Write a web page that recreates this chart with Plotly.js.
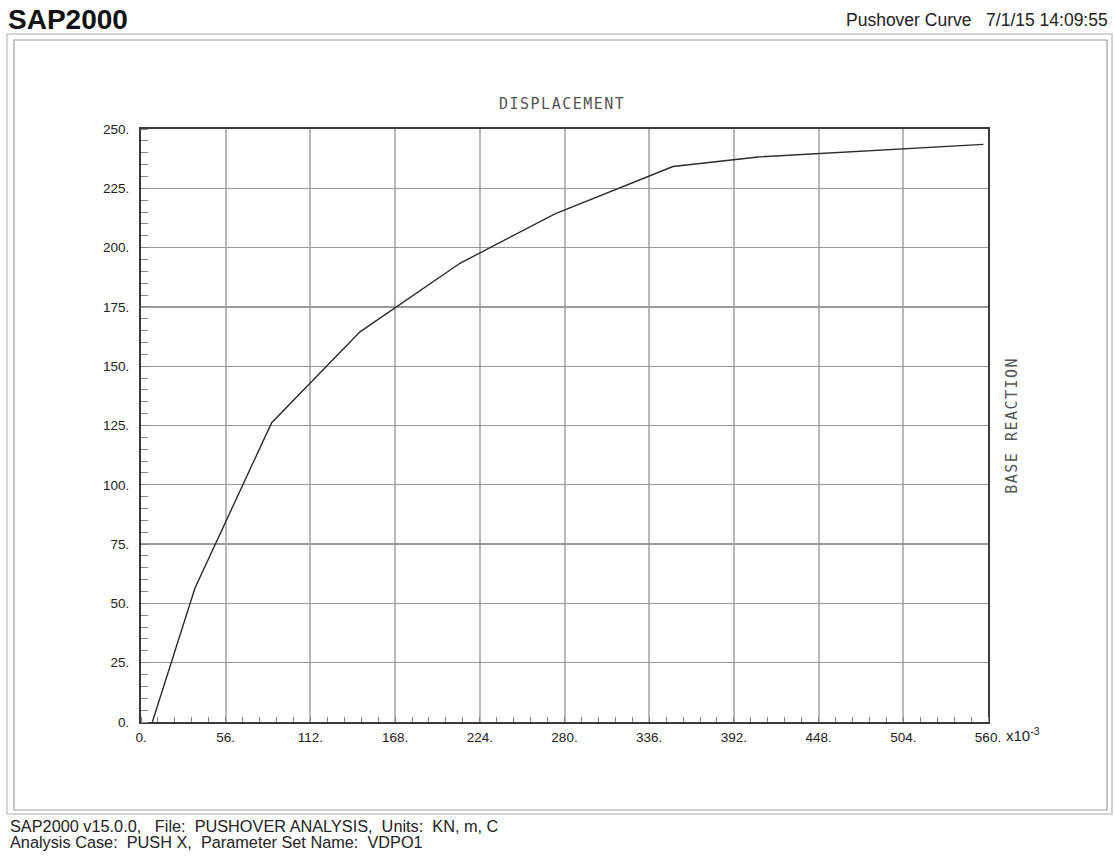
<!DOCTYPE html>
<html>
<head>
<meta charset="utf-8">
<script src="https://cdn.plot.ly/plotly-3.0.1.min.js"></script>
<style>
  html, body { margin: 0; padding: 0; background: #ffffff; }
  #chart { width: 1115px; height: 859px; }
  .mono-label { letter-spacing: 1.5px; }
</style>
</head>
<body>
<div id="chart"></div>
<script>
// Pushover curve: roof displacement (x10^-3 m) vs base reaction (KN)
const displacement = [7.5, 35.7, 86.4, 144.8, 210.9, 273.7, 351.7, 408.0, 557.0];
const baseReaction = [0.0, 56.5, 126.2, 164.5, 193.4, 214.2, 234.2, 238.2, 243.5];

const xTickVals = [0, 56, 112, 168, 224, 280, 336, 392, 448, 504, 560];
const xTickText = ["0.", "56.", "112.", "168.", "224.", "280.", "336.", "392.", "448.", "504.", "560."];
const yTickVals = [0, 25, 50, 75, 100, 125, 150, 175, 200, 225, 250];
const yTickText = ["0.", "25.", "50.", "75.", "100.", "125.", "150.", "175.", "200.", "225.", "250."];

const headerTitle = "SAP2000";
const headerInfo = "Pushover Curve\u00A0\u00A0\u00A07/1/15 14:09:55";
const footerLine1 = "SAP2000 v15.0.0,\u00A0\u00A0\u00A0File:\u00A0\u00A0PUSHOVER ANALYSIS,\u00A0\u00A0Units:\u00A0\u00A0KN, m, C";
const footerLine2 = "Analysis Case:\u00A0\u00A0PUSH X,\u00A0\u00A0Parameter Set Name:\u00A0\u00A0VDPO1";

// plot area in pixels
const W = 1115, H = 859;
const L = 141, R = 988, T = 129, B = 722;
const px = x => (x - L) / (R - L);
const py = y => (B - y) / (B - T);

const sans = "Liberation Sans, Arial, sans-serif";
const mono = "DejaVu Sans Mono, monospace";

const trace = {
  x: displacement,
  y: baseReaction,
  type: "scatter",
  mode: "lines",
  line: { color: "#2b2b2b", width: 1.4 },
  hoverinfo: "skip"
};

const layout = {
  width: W,
  height: H,
  paper_bgcolor: "#ffffff",
  plot_bgcolor: "#ffffff",
  showlegend: false,
  margin: { l: L, r: W - R, t: T, b: H - B, pad: 0 },
  xaxis: {
    range: [0, 560],
    tickvals: xTickVals,
    ticktext: xTickText,
    ticks: "",
    ticklabelstandoff: 2,
    tickfont: { family: sans, size: 13.5, color: "#222" },
    showgrid: true,
    gridcolor: "#b8b8b8",
    gridwidth: 2,
    zeroline: false,
    showline: true,
    linecolor: "#3a3a3a",
    linewidth: 2,
    mirror: true,
    minor: { ticks: "inside", dtick: 11.2, tick0: 0, ticklen: 5, tickcolor: "#888", tickwidth: 1, showgrid: false },
    fixedrange: true
  },
  yaxis: {
    range: [0, 250],
    tickvals: yTickVals,
    ticktext: yTickText,
    ticks: "",
    ticklabelstandoff: 7,
    tickfont: { family: sans, size: 13.5, color: "#222" },
    showgrid: true,
    gridcolor: "#9a9a9a",
    gridwidth: 1.3,
    zeroline: false,
    showline: true,
    linecolor: "#3a3a3a",
    linewidth: 2,
    mirror: true,
    minor: { ticks: "inside", dtick: 5, tick0: 0, ticklen: 7, tickcolor: "#888", tickwidth: 1, showgrid: false },
    fixedrange: true
  },
  shapes: [
    // page frame: light outer edge, darker inner edge
    { type: "rect", xref: "paper", yref: "paper",
      x0: px(7), x1: px(1112), y0: py(814), y1: py(34),
      line: { color: "#c8c8c8", width: 1.5 }, layer: "below" },
    { type: "rect", xref: "paper", yref: "paper",
      x0: px(14), x1: px(1107), y0: py(810), y1: py(40),
      line: { color: "#9c9c9c", width: 1.2 }, layer: "below" }
  ],
  annotations: [
    { text: "<b>" + headerTitle + "</b>", xref: "paper", yref: "paper",
      x: px(6), y: py(20), xanchor: "left", yanchor: "middle", showarrow: false,
      font: { family: sans, size: 28, color: "#111" } },
    { text: headerInfo, xref: "paper", yref: "paper",
      x: px(1110), y: py(20), xanchor: "right", yanchor: "middle", showarrow: false,
      font: { family: sans, size: 17.5, color: "#222" } },
    { text: "DISPLACEMENT", xref: "paper", yref: "paper",
      x: px(562), y: py(104), xanchor: "center", yanchor: "middle", showarrow: false,
      font: { family: mono, size: 15, color: "#555" } },
    { text: "BASE REACTION", xref: "paper", yref: "paper",
      x: px(1012), y: py(426), xanchor: "center", yanchor: "middle", showarrow: false,
      textangle: -90,
      font: { family: mono, size: 15, color: "#555" } },
    { text: "x10<sup>-3</sup>", xref: "paper", yref: "paper",
      x: px(1004), y: py(734), xanchor: "left", yanchor: "middle", showarrow: false,
      font: { family: sans, size: 15, color: "#222" } },
    { text: footerLine1, xref: "paper", yref: "paper",
      x: px(8), y: py(826), xanchor: "left", yanchor: "middle", showarrow: false,
      font: { family: sans, size: 16.3, color: "#222" } },
    { text: footerLine2, xref: "paper", yref: "paper",
      x: px(8), y: py(842), xanchor: "left", yanchor: "middle", showarrow: false,
      font: { family: sans, size: 16.3, color: "#222" } }
  ]
};

Plotly.newPlot("chart", [trace], layout, { displayModeBar: false, staticPlot: true }).then(() => {
  document.querySelectorAll(".annotation-text").forEach(el => {
    const t = el.textContent;
    if (t === "DISPLACEMENT" || t === "BASE REACTION") el.classList.add("mono-label");
  });
});
</script>
</body>
</html>
